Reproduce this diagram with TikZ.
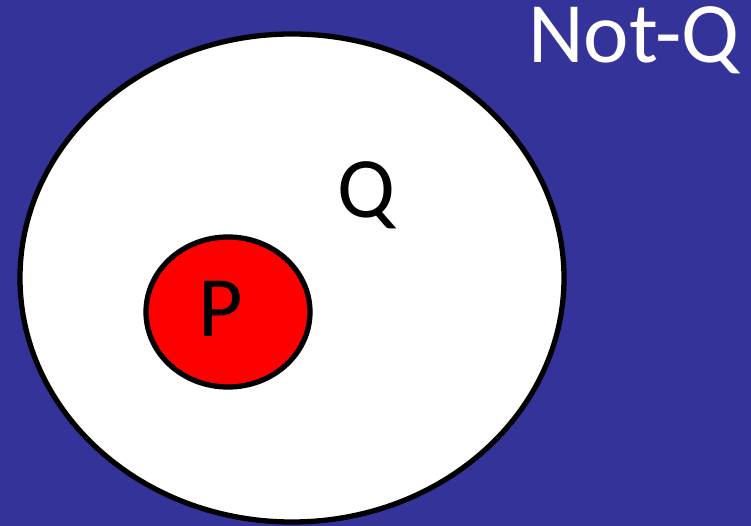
\documentclass[tikz,border=0pt]{standalone}
\usepackage{fontspec}
\setmainfont{Carlito}
\usetikzlibrary{positioning}
\definecolor{bgblue}{RGB}{51,51,153}
\tikzset{label text/.style={font=\fontsize{49}{52}\selectfont, anchor=base, inner sep=0pt}}

\begin{document}
\begin{tikzpicture}[x=0.02cm,y=-0.02cm]
    \fill[bgblue] (0,0) rectangle (751,526);
    \useasboundingbox (0,0) rectangle (751,526);
    % conjunto Q y subconjunto P
    \draw[line width=3pt,fill=white] (292,278) ellipse (272 and 244);
    \draw[line width=3pt,fill=red] (228,312) ellipse (82 and 75);
    \node[label text,white] (notq) at (634,63) {Not-Q};
    \node[label text] (q) at (366,218) {Q};
    \node[label text] (p) at (221,337) {P};
\end{tikzpicture}
\end{document}
